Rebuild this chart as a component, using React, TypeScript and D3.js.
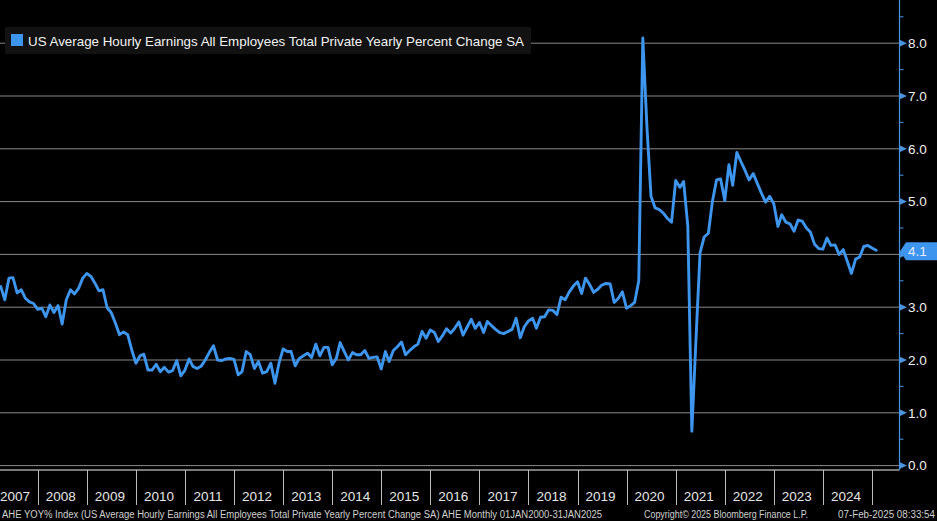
import React from 'react';
import * as d3 from 'd3';

// Monthly data, first point = March 2007, last = January 2025
const startYear = 2007;
const startMonth = 2; // March (0-based)
const values: number[] = [
  // 2007 Mar-Dec
  3.39, 3.14, 3.55, 3.56, 3.27, 3.33, 3.17, 3.10, 3.07, 2.96,
  // 2008
  2.98, 2.82, 3.04, 2.90, 3.03, 2.68, 3.14, 3.33, 3.25, 3.36, 3.55, 3.64,
  // 2009
  3.58, 3.46, 3.31, 3.33, 2.99, 2.90, 2.70, 2.48, 2.53, 2.48, 2.19, 1.94,
  // 2010
  2.08, 2.11, 1.81, 1.81, 1.92, 1.78, 1.86, 1.77, 1.80, 1.99, 1.70, 1.81,
  // 2011
  2.02, 1.88, 1.84, 1.88, 2.00, 2.14, 2.27, 2.00, 1.99, 2.02, 2.03, 2.01,
  // 2012
  1.72, 1.78, 2.16, 2.10, 1.84, 1.97, 1.75, 1.78, 1.94, 1.56, 1.94, 2.21,
  // 2013
  2.16, 2.16, 1.89, 2.03, 2.08, 2.13, 2.05, 2.30, 2.08, 2.24, 2.24, 1.91,
  // 2014
  2.03, 2.33, 2.16, 2.00, 2.14, 2.10, 2.10, 2.18, 2.03, 2.05, 2.06, 1.83,
  // 2015
  2.16, 1.97, 2.18, 2.25, 2.34, 2.10, 2.18, 2.25, 2.30, 2.54, 2.41, 2.57,
  // 2016
  2.52, 2.35, 2.46, 2.59, 2.51, 2.60, 2.72, 2.47, 2.62, 2.77, 2.60, 2.71,
  // 2017
  2.52, 2.73, 2.65, 2.58, 2.52, 2.50, 2.54, 2.58, 2.79, 2.42, 2.63, 2.74,
  // 2018
  2.79, 2.60, 2.81, 2.82, 2.95, 2.94, 2.86, 3.19, 3.14, 3.29, 3.40, 3.48,
  // 2019
  3.26, 3.55, 3.43, 3.28, 3.34, 3.42, 3.45, 3.44, 3.09, 3.17, 3.29, 2.98,
  // 2020
  3.03, 3.09, 3.50, 8.10, 6.40, 5.10, 4.88, 4.85, 4.78, 4.68, 4.61, 5.40,
  // 2021
  5.27, 5.38, 4.53, 0.65, 2.40, 4.03, 4.33, 4.40, 5.00, 5.41, 5.43, 5.02,
  // 2022
  5.70, 5.31, 5.93, 5.76, 5.59, 5.41, 5.53, 5.34, 5.16, 4.99, 5.10, 4.96,
  // 2023
  4.53, 4.75, 4.61, 4.58, 4.44, 4.65, 4.63, 4.50, 4.42, 4.19, 4.11, 4.10,
  // 2024
  4.31, 4.17, 4.18, 4.00, 4.09, 3.87, 3.64, 3.91, 3.95, 4.15, 4.17, 4.12,
  // 2025 Jan
  4.08,
];

const yTicks = [0, 1, 2, 3, 4, 5, 6, 7, 8];
const yearLabels = [2007, 2008, 2009, 2010, 2011, 2012, 2013, 2014, 2015, 2016, 2017, 2018, 2019, 2020, 2021, 2022, 2023, 2024];
const yearSeparators = [2008, 2009, 2010, 2011, 2012, 2013, 2014, 2015, 2016, 2017, 2018, 2019, 2020, 2021, 2022, 2023, 2024, 2025];
const legendLabel = 'US Average Hourly Earnings All Employees Total Private Yearly Percent Change SA';
const lastLabel = '4.1';
const footerLeft = 'AHE YOY% Index (US Average Hourly Earnings All Employees Total Private Yearly Percent Change SA) AHE  Monthly 01JAN2000-31JAN2025';
const footerMid = 'Copyright\u00A9 2025 Bloomberg Finance L.P.';
const footerRight = '07-Feb-2025 08:33:54';

const BLUE = '#3d95ee';
const AXIS_BLUE = '#4a93e0';
const FONT = '"Liberation Sans", Arial, sans-serif';

export default function App() {
  const W = 937;
  const H = 521;
  const axisX = 899.5;
  const plotBottom = 470;

  const x = d3.scaleTime()
    .domain([new Date(2008, 0, 1), new Date(2025, 0, 1)])
    .range([37.7, 872]);
  const y = d3.scaleLinear().domain([0, 8]).range([465.6, 43.2]);

  const data = values.map((v, i) => ({ date: new Date(startYear, startMonth + i + 1, 1), v }));
  const line = d3.line<{ date: Date; v: number }>()
    .x((d) => x(d.date))
    .y((d) => y(d.v));

  const last = data[data.length - 1];
  const yl = y(last.v);

  return (
    <svg
      width={W}
      height={H}
      viewBox={`0 0 ${W} ${H}`}
      style={{ position: 'absolute', left: 0, top: 0, background: '#000', display: 'block' }}
      fontFamily={FONT}
    >
      <rect x={0} y={0} width={W} height={H} fill="#000" />
      <defs>
        <clipPath id="plotClip">
          <rect x={0} y={0} width={axisX} height={plotBottom} />
        </clipPath>
      </defs>

      {/* gridlines */}
      {yTicks.map((t) => (
        <line key={'g' + t} x1={0} x2={axisX} y1={y(t)} y2={y(t)} stroke="#8a8a8a" strokeWidth={1} />
      ))}

      {/* bottom frame line */}
      <line x1={0} x2={axisX} y1={plotBottom} y2={plotBottom} stroke="#f2f2f2" strokeWidth={1.2} />

      {/* year separators */}
      {yearSeparators.map((yr) => {
        const xs = Math.round(x(new Date(yr, 0, 1))) + 0.5;
        return <line key={'s' + yr} x1={xs} x2={xs} y1={plotBottom} y2={505} stroke="#bdbdbd" strokeWidth={1} />;
      })}

      {/* year labels */}
      {yearLabels.map((yr) => {
        const c = (x(new Date(yr, 0, 1)) + x(new Date(yr + 1, 0, 1))) / 2 - 1.5;
        const cx = Math.max(c, 15);
        return (
          <text key={'y' + yr} x={cx} y={501} fill="#e6e6e6" fontSize={13.5} textAnchor="middle">
            {yr}
          </text>
        );
      })}

      {/* data line */}
      <g clipPath="url(#plotClip)">
        <path d={line(data) || ''} fill="none" stroke={BLUE} strokeWidth={2.9} strokeLinejoin="round" strokeLinecap="round" />
      </g>

      {/* right axis */}
      <line x1={axisX} x2={axisX} y1={0} y2={plotBottom} stroke={AXIS_BLUE} strokeWidth={1.2} />
      {yTicks.map((t) => (
        <line key={'m' + t} x1={axisX} x2={axisX + 4} y1={y(t + 0.5)} y2={y(t + 0.5)} stroke={AXIS_BLUE} strokeWidth={1} />
      ))}
      {yTicks.map((t) => {
        const yy = y(t);
        const hidden = Math.abs(yy - yl) < 14;
        return (
          <g key={'t' + t}>
            <path d={`M${axisX},${yy - 3.5} L${axisX + 7.5},${yy} L${axisX},${yy + 3.5} Z`} fill={AXIS_BLUE} />
            {!hidden && (
              <text x={908} y={yy + 4.8} fill="#f0f0f0" fontSize={13.5}>
                {t.toFixed(1)}
              </text>
            )}
          </g>
        );
      })}

      {/* last value tag */}
      <path
        d={`M${axisX + 0.5},${yl + 1} L${axisX + 6.5},${yl - 8} L${W},${yl - 8} L${W},${yl + 10} L${axisX + 6.5},${yl + 10} Z`}
        fill={BLUE}
      />
      <text x={908} y={yl + 6} fill="#e8eeff" fontSize={13.5}>
        {lastLabel}
      </text>

      {/* legend */}
      <rect x={5} y={27} width={526} height={27} fill="#121212" />
      <rect x={11} y={34} width={12} height={12} fill={BLUE} />
      <text x={28} y={45.5} fill="#f2f2f2" fontSize={13.5} textLength={496} lengthAdjust="spacingAndGlyphs">
        {legendLabel}
      </text>

      {/* footer */}
      <text x={2} y={517.5} fill="#d0d0d0" fontSize={10} textLength={600} lengthAdjust="spacingAndGlyphs">
        {footerLeft}
      </text>
      <text x={644} y={517.5} fill="#d0d0d0" fontSize={10} textLength={164} lengthAdjust="spacingAndGlyphs">
        {footerMid}
      </text>
      <text x={838} y={517.5} fill="#d0d0d0" fontSize={10} textLength={97} lengthAdjust="spacingAndGlyphs">
        {footerRight}
      </text>
    </svg>
  );
}
